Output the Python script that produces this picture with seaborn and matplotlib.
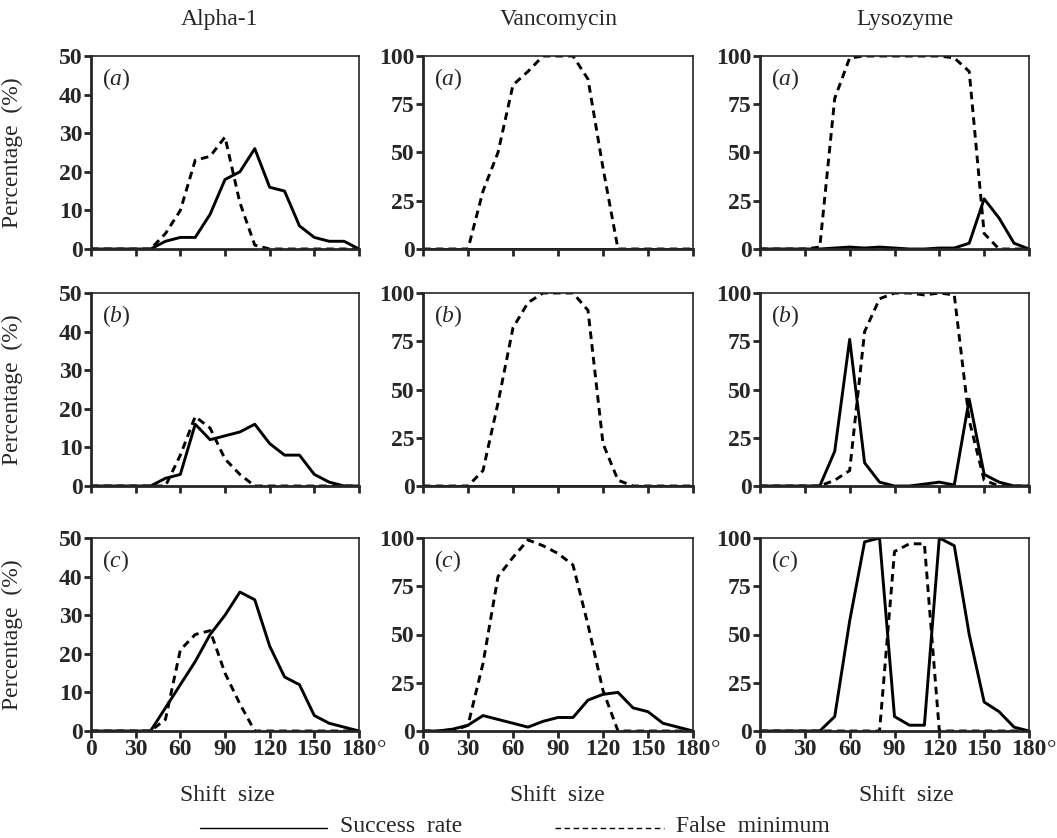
import numpy as np
import pandas as pd
import seaborn as sns
from matplotlib import pyplot as plt
from matplotlib.lines import Line2D

# shift sizes (degrees)
shift = list(range(0, 181, 10))

# Alpha-1
alpha_a_success = [0, 0, 0, 0, 0, 2, 3, 3, 9, 18, 20, 26, 16, 15, 6, 3, 2, 2, 0]
alpha_a_false = [0, 0, 0, 0, 0, 4, 10, 23, 24, 29, 12, 1, 0, 0, 0, 0, 0, 0, 0]
alpha_b_success = [0, 0, 0, 0, 0, 2, 3, 16, 12, 13, 14, 16, 11, 8, 8, 3, 1, 0, 0]
alpha_b_false = [0, 0, 0, 0, 0, 0, 8, 18, 15, 7, 3, 0, 0, 0, 0, 0, 0, 0, 0]
alpha_c_success = [0, 0, 0, 0, 0, 6, 12, 18, 25, 30, 36, 34, 22, 14, 12, 4, 2, 1, 0]
alpha_c_false = [0, 0, 0, 0, 0, 3, 21, 25, 26, 15, 7, 0, 0, 0, 0, 0, 0, 0, 0]

# Vancomycin
vanco_a_success = [0] * 19
vanco_a_false = [0, 0, 0, 0, 30, 50, 85, 92, 100, 100, 100, 88, 42, 0, 0, 0, 0, 0, 0]
vanco_b_success = [0] * 19
vanco_b_false = [0, 0, 0, 0, 8, 43, 82, 95, 100, 100, 100, 91, 22, 3, 0, 0, 0, 0, 0]
vanco_c_success = [0, 0, 1, 3, 8, 6, 4, 2, 5, 7, 7, 16, 19, 20, 12, 10, 4, 2, 0]
vanco_c_false = [0, 0, 0, 3, 35, 80, 90, 99, 96, 92, 86, 55, 21, 0, 0, 0, 0, 0, 0]

# Lysozyme
lyso_a_success = [0, 0, 0, 0, 0, 0.5, 1, 0.5, 1, 0.5, 0, 0, 0.5, 0.5, 3, 26, 16, 3, 0]
lyso_a_false = [0, 0, 0, 0, 1, 78, 99, 100, 100, 100, 100, 100, 100, 99, 92, 8, 0, 0, 0]
lyso_b_success = [0, 0, 0, 0, 0, 18, 76, 12, 2, 0, 0, 1, 2, 0.5, 45, 6, 2, 0, 0]
lyso_b_false = [0, 0, 0, 0, 0, 3, 8, 80, 97, 100, 100, 99, 100, 99, 34, 3, 0, 0, 0]
lyso_c_success = [0, 0, 0, 0, 0, 7.5, 57, 98, 100, 7.5, 3, 3, 100, 96, 50, 15, 10, 2, 0]
lyso_c_false = [0, 0, 0, 0, 0, 0, 0, 0, 0, 93, 97, 97, 0, 0, 0, 0, 0, 0, 0]

titles = ["Alpha-1", "Vancomycin", "Lysozyme"]
panel_labels = ["a", "b", "c"]
alpha_yticks = [0, 10, 20, 30, 40, 50]
other_yticks = [0, 25, 50, 75, 100]
xticks = [0, 30, 60, 90, 120, 150, 180]

panels = [
    [(alpha_a_success, alpha_a_false), (vanco_a_success, vanco_a_false), (lyso_a_success, lyso_a_false)],
    [(alpha_b_success, alpha_b_false), (vanco_b_success, vanco_b_false), (lyso_b_success, lyso_b_false)],
    [(alpha_c_success, alpha_c_false), (vanco_c_success, vanco_c_false), (lyso_c_success, lyso_c_false)],
]

sns.set_style("ticks")
plt.rcParams['font.family'] = ['Liberation Serif', 'DejaVu Serif']
plt.rcParams['mathtext.fontset'] = 'custom'
plt.rcParams['mathtext.rm'] = 'Liberation Serif'
plt.rcParams['mathtext.it'] = 'Liberation Serif:italic'

W, H = 1057, 838
fig = plt.figure(figsize=(W / 100, H / 100), dpi=100)

col_left = [91, 423, 760]
col_width = [268, 270, 269]
row_top = [56, 293, 538]
row_h = 193

for r in range(3):
    for c in range(3):
        rect = [col_left[c] / W, 1 - (row_top[r] + row_h) / H, col_width[c] / W, row_h / H]
        ax = fig.add_axes(rect)
        succ, fals = panels[r][c]
        df = pd.DataFrame({"shift": shift, "success": succ, "false": fals})
        sns.lineplot(data=df, x="shift", y="success", ax=ax, color="black", lw=2.1)
        sns.lineplot(data=df, x="shift", y="false", ax=ax, color="black", lw=2.1)
        ax.lines[-1].set_dashes((2.6, 1.8))
        ax.set_xlim(0, 180)
        if c == 0:
            ax.set_ylim(0, 50)
            ax.set_yticks(alpha_yticks)
            ax.set_ylabel("Percentage  (%)", fontsize=17)
            ax.yaxis.set_label_coords(-0.255, 0.5)
        else:
            ax.set_ylim(0, 100)
            ax.set_yticks(other_yticks)
            ax.set_ylabel("")
        ax.set_xticks(xticks)
        ax.set_xlabel("")
        if r < 2:
            ax.set_xticklabels([])
        else:
            ax.set_xticklabels([str(t) for t in xticks], fontweight="bold")
            ax.text(1.085, -0.045, "°", transform=ax.transAxes, fontsize=17,
                    ha="center", va="top")
        for lab in ax.get_yticklabels():
            lab.set_fontweight("bold")
        ax.tick_params(direction="out", length=5, width=2, labelsize=17, pad=1)
        for s in ["left", "bottom"]:
            ax.spines[s].set_linewidth(2)
        for s in ["top", "right"]:
            ax.spines[s].set_linewidth(1.2)
        ax.text(0.04, 0.88, r"$(\mathit{%s})$" % panel_labels[r], transform=ax.transAxes,
                fontsize=17, ha="left", va="center")

# column titles and x labels
title_x = [220, 559, 905]
shift_x = [227, 557, 906]
for c in range(3):
    fig.text(title_x[c] / W, 1 - 20 / H, titles[c], fontsize=17, ha="center", va="center")
    fig.text(shift_x[c] / W, 1 - 795 / H, "Shift  size", fontsize=17, ha="center", va="center")

# legend
ly = 1 - 828 / H
fig.add_artist(Line2D([200 / W, 327 / W], [ly, ly], color="black", lw=1, transform=fig.transFigure))
fig.text(340 / W, 1 - 826 / H, "Success  rate", fontsize=17, ha="left", va="center")
dash_line = Line2D([555 / W, 664 / W], [ly, ly], color="black", lw=1, transform=fig.transFigure)
dash_line.set_dashes((4, 2.5))
fig.add_artist(dash_line)
fig.text(676 / W, 1 - 826 / H, "False  minimum", fontsize=17, ha="left", va="center")

fig.savefig("out.png", dpi=100)
